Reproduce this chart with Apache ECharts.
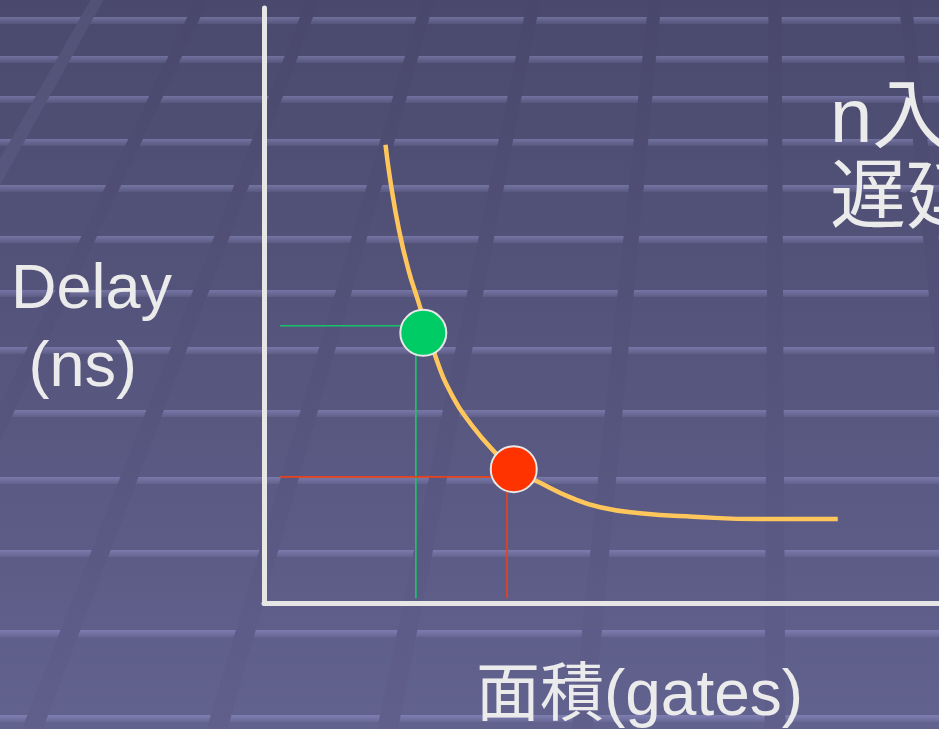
<!DOCTYPE html>
<html>
<head>
<meta charset="utf-8">
<script src="https://cdn.jsdelivr.net/npm/echarts@6/dist/echarts.min.js"></script>
<style>html,body{margin:0;padding:0;}#chart{width:939px;height:729px;}</style>
</head>
<body>
<div id="chart"></div>
<script>
// ---- data ----
const curveX = [18.0, 18.7, 20.0, 21.4, 22.8, 25.6, 28.0, 30.5, 33.9, 37.0, 40.9, 45.3, 49.8, 55.7, 63.6, 73.5, 85.0];
const curveY = [77.0, 71.1, 62.7, 56.0, 50.9, 40.8, 34.6, 30.3, 25.7, 22.5, 20.2, 17.8, 16.1, 15.1, 14.5, 14.1, 14.1];
const pointNames = ['green', 'red'];
const pointX = [23.6, 37.0];
const pointY = [45.4, 22.5];
const guideGreenX = [2.4, 22.5, 22.5];
const guideGreenY = [46.6, 46.6, 0.8];
const guideRedX = [2.4, 36.0, 36.0];
const guideRedY = [21.2, 21.2, 0.8];
const xName = '面積(gates)';
const yName = 'Delay\n (ns)';
const sideText = 'n入力\n遅延';

// ---- decorative slide background ----
const FONT = "'Liberation Sans', Arial, 'Noto Sans CJK JP', sans-serif";
const W = 939, H = 729;
const decor = [];
[20, 59, 99, 142, 188, 239, 293, 350, 413, 480, 553, 633, 718].forEach(function (y) {
  decor.push({
    type: 'rect', z: -100, silent: true,
    shape: { x: 0, y: y - 3, width: W, height: 7 },
    style: { fill: new echarts.graphic.LinearGradient(0, 0, 0, 1, [
      { offset: 0, color: 'rgba(170,170,230,0.40)' },
      { offset: 1, color: 'rgba(170,170,230,0.10)' }]) }
  });
});
const vpX = 775, k = (H + 1200) / 1200;
[97, 202, 313, 428, 534, 655, 775, 905].forEach(function (x0, i) {
  const hw = 6.5;
  const light = i === 0;
  decor.push({
    type: 'polygon', z: -90, silent: true,
    shape: { points: [[x0 - hw, 0], [x0 + hw, 0],
      [vpX + (x0 + hw - vpX) * k, H], [vpX + (x0 - hw - vpX) * k, H]] },
    style: { fill: new echarts.graphic.LinearGradient(0, 0, 0, 1, light ? [
      { offset: 0, color: '#525177' }, { offset: 1, color: '#666694' }] : [
      { offset: 0, color: '#49476b' }, { offset: 1, color: '#605f8c' }]) }
  });
});

const chart = echarts.init(document.getElementById('chart'), null, { renderer: 'canvas' });
chart.setOption({
  animation: false,
  backgroundColor: new echarts.graphic.LinearGradient(0, 0, 0, 1, [
    { offset: 0, color: '#4a496d' },
    { offset: 1, color: '#62628f' }]),
  graphic: { elements: decor },
  title: [
    {
      text: sideText, left: 830, top: 81, padding: 0,
      textStyle: { color: '#ebebeb', fontSize: 76, fontWeight: 'normal', lineHeight: 80, fontFamily: FONT }
    },
    {
      text: yName, left: 11, top: 252, padding: 0,
      textStyle: { color: '#ebebeb', fontSize: 63, fontWeight: 'normal', lineHeight: 78, fontFamily: FONT }
    }
  ],
  grid: { left: 264, right: 0, top: 8, bottom: 126, containLabel: false, outerBoundsMode: 'none' },
  xAxis: {
    type: 'value', min: 0, max: 100,
    name: xName, nameLocation: 'middle', nameGap: 62,
    nameTextStyle: { color: '#ebebeb', fontSize: 64, fontFamily: FONT, padding: [0, 0, 0, 76] },
    axisLine: { show: true, onZero: false, lineStyle: { color: '#e6e6e6', width: 5 } },
    axisTick: { show: false }, axisLabel: { show: false }, splitLine: { show: false }
  },
  yAxis: {
    type: 'value', min: 0, max: 100,
    axisLine: { show: true, onZero: false, lineStyle: { color: '#e6e6e6', width: 5 } },
    axisTick: { show: false }, axisLabel: { show: false }, splitLine: { show: false }
  },
  series: [
    {
      type: 'line', name: 'guide-green', z: 3, silent: true, showSymbol: false,
      data: guideGreenX.map(function (x, i) { return [x, guideGreenY[i]]; }),
      lineStyle: { color: '#14c466', width: 1.7 }
    },
    {
      type: 'line', name: 'guide-red', z: 3, silent: true, showSymbol: false,
      data: guideRedX.map(function (x, i) { return [x, guideRedY[i]]; }),
      lineStyle: { color: '#e8421a', width: 1.7 }
    },
    {
      type: 'line', name: 'curve', z: 4, smooth: 0.5, showSymbol: false,
      data: curveX.map(function (x, i) { return [x, curveY[i]]; }),
      lineStyle: { color: '#ffc65c', width: 4.5 }
    },
    {
      type: 'scatter', name: 'points', z: 5, symbolSize: 46,
      data: pointX.map(function (x, i) {
        return { name: pointNames[i], value: [x, pointY[i]],
          itemStyle: { color: i === 0 ? '#00cc66' : '#ff3300' } };
      }),
      itemStyle: { borderColor: '#e8e8e8', borderWidth: 2, opacity: 1 }
    }
  ]
});
</script>
</body>
</html>
